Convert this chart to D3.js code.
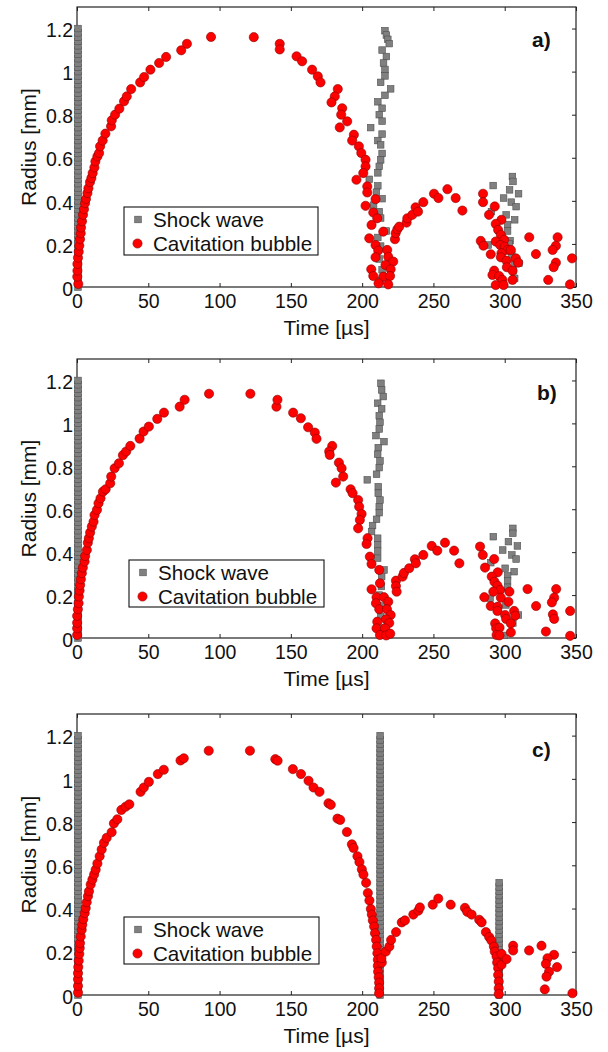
<!DOCTYPE html>
<html>
<head>
<meta charset="utf-8">
<script src="https://cdn.jsdelivr.net/npm/d3@7"></script>
<style>
  body { margin: 0; background: #fff; }
  svg { display: block; }
</style>
</head>
<body>
<script>
// tick values and labels
var timeTicks = [0, 50, 100, 150, 200, 250, 300, 350]
var radiusTicks = [0, 0.2, 0.4, 0.6, 0.8, 1, 1.2]
var panelNames = ["a)", "b)", "c)"]
var seriesNames = ["Shock wave", "Cavitation bubble"]

// radii of the stacked shock-wave squares (one column per emission)
var shockColumnR = [0, 0.02, 0.04, 0.06, 0.08, 0.1, 0.12, 0.14, 0.16, 0.18, 0.2, 0.22, 0.24, 0.26, 0.28, 0.3,
  0.32, 0.34, 0.36, 0.38, 0.4, 0.42, 0.44, 0.46, 0.48, 0.5, 0.52, 0.54, 0.56, 0.58, 0.6, 0.62, 0.64, 0.66,
  0.68, 0.7, 0.72, 0.74, 0.76, 0.78, 0.8, 0.82, 0.84, 0.86, 0.88, 0.9, 0.92, 0.94, 0.96, 0.98, 1, 1.02,
  1.04, 1.06, 1.08, 1.1, 1.12, 1.14, 1.16, 1.18, 1.2]

// panel a)  [time us, radius mm]
var shockA = [[216,1.19],[217,1.17],[218,1.15],[219,1.13],[214,1.10],[217,1.07],[215,1.04],[216,1.01],[216,0.98],
  [213,0.95],[220,0.92],[216,0.89],[211,0.86],[214,0.83],[212,0.80],[214,0.77],[206,0.74],[214,0.71],[211,0.68],
  [213,0.66],[214,0.62],[213,0.59],[212,0.56],[211,0.53],[205,0.50],[211,0.47],[210,0.44],[214,0.41],[208,0.38],
  [212,0.35],[213,0.32],[217,0.26],[211,0.23],[213,0.19],[212,0.13],[214,0.08],[213,0.03],
  [305.4,0.513],[305.8,0.49],[291.9,0.471],[303.4,0.451],[309.7,0.433],[299.2,0.413],[304.6,0.394],[308,0.373],
  [290.7,0.35],[301,0.335],[307,0.312],[302,0.29],[302,0.26],[303.8,0.215],[288.4,0.195],[303,0.2],[305,0.15],
  [307,0.11],[310,0.11],[306,0.075],[307,0.04]]
var bubbleA = [[0.9,0.014],[0.2,0.048],[0.3,0.076],[0.3,0.107],[0.7,0.136],[1.2,0.164],[1.6,0.192],[2.1,0.222],
  [2.6,0.25],[2.8,0.276],[3.5,0.305],[4.2,0.335],[4.9,0.361],[5.6,0.389],[6.3,0.409],[7.3,0.436],[8.0,0.459],
  [9.1,0.487],[10.1,0.506],[11.0,0.529],[12.2,0.555],[12.9,0.583],[14.3,0.606],[15.5,0.622],[16.2,0.653],
  [18.0,0.68],[19.9,0.712],[23.9,0.746],[24.4,0.774],[26.7,0.80],[29.7,0.828],[33.0,0.862],[34.9,0.885],
  [38.0,0.919],[44.3,0.95],[47.1,0.975],[51.5,1.009],[57.6,1.04],[62.5,1.068],[73.1,1.099],[77.1,1.129],
  [94.0,1.161],[124,1.16],[142.2,1.129],[142.2,1.103],[154,1.071],
  [157.9,1.048],[164.9,1.009],[168.9,0.978],[170.8,0.95],[182.9,0.919],[180.8,0.885],[178.5,0.857],[186,0.83],
  [185.3,0.80],[189.5,0.769],[184.3,0.741],[194.2,0.707],[193,0.68],[197.7,0.653],[199.4,0.622],[202.4,0.591],
  [202.4,0.56],[200.8,0.529],[196,0.498],[203.6,0.467],[203.6,0.439],[209.4,0.408],[202.4,0.377],[207.8,0.346],
  [210.6,0.319],[206.6,0.288],[214.8,0.257],[205,0.226],[209.4,0.195],[211.3,0.169],[217.6,0.172],[209.4,0.138],
  [218.3,0.14],[221.8,0.118],[216.4,0.102],[206.4,0.082],[220,0.082],[207.8,0.051],[214.8,0.048],[219.6,0.051],
  [211.5,0.017],[218.3,0.012],
  [223,0.222],[223.5,0.25],[224.7,0.268],[226,0.28],[231.2,0.299],[231.7,0.319],[235.2,0.335],[237.5,0.37],
  [239.2,0.35],[242.9,0.394],[250.4,0.433],[253.5,0.413],[259.8,0.454],[265.6,0.413],[270.3,0.355],
  [284.8,0.433],[284.8,0.394],[293,0.374],[289,0.335],[297.7,0.312],[293.7,0.293],[295.4,0.265],[297.3,0.242],
  [299.6,0.219],[293.7,0.211],[283.2,0.214],[285.1,0.192],[296.8,0.195],[300,0.187],[302,0.172],[304.3,0.172],
  [290.2,0.152],[297.7,0.157],[297.3,0.138],[307.8,0.133],[301.3,0.122],[309.4,0.113],[301.5,0.092],[305.5,0.076],
  [292.6,0.076],[291.4,0.056],[296.1,0.051],[298.4,0.033],[305.5,0.033],[293.7,0.009],[299.2,0.009],
  [317.2,0.231],[321.9,0.153],[337.1,0.231],[335.9,0.191],[333.6,0.172],[335.9,0.113],[334.3,0.092],[330.5,0.033],
  [347.2,0.133],[345.8,0.012]]

// panel b)
var shockB = [[213.2,1.187],[213.7,1.156],[214.8,1.125],[210.9,1.094],[213.7,1.068],[212,1.036],[212.5,1.005],
  [212,0.974],[209.7,0.943],[215.3,0.915],[211.3,0.887],[210.9,0.856],[212.5,0.825],[212,0.794],[210.1,0.763],
  [203.6,0.737],[211.3,0.705],[211.3,0.675],[212.5,0.643],[212,0.612],[212,0.584],[210.1,0.553],[207.3,0.524],
  [206.6,0.496],[210.9,0.465],[210.9,0.434],[210.9,0.405],[210.9,0.372],[215.3,0.317],[213.7,0.286],[213.5,0.24],
  [212,0.2],[214,0.15],[213,0.1],[212,0.05],
  [305.7,0.511],[305.7,0.488],[292,0.472],[302.6,0.449],[308.9,0.429],[298.6,0.41],[305,0.387],[308,0.368],
  [290.2,0.351],[300.3,0.325],[306.6,0.309],[302,0.29],[302,0.267],[302,0.236],[289.7,0.185],[300.8,0.154],
  [309.6,0.107],[305.7,0.07],[299.6,0.012]]
var bubbleB = [[0.1,0.014],[0.1,0.045],[0.1,0.071],[0.1,0.103],[0.6,0.134],[1.1,0.162],[1.3,0.193],[1.8,0.221],
  [2.2,0.247],[2.7,0.274],[3.4,0.302],[4.1,0.328],[5.3,0.356],[5.7,0.382],[6.9,0.41],[7.6,0.444],[8.3,0.465],
  [9.2,0.491],[10.4,0.519],[11.6,0.542],[12.3,0.573],[14.0,0.597],[15.1,0.628],[16.5,0.651],[18.2,0.682],
  [20.1,0.693],[23.3,0.721],[24.0,0.752],[26.4,0.791],[29.4,0.814],[32.2,0.852],[34.5,0.869],[37.4,0.895],
  [43.9,0.929],[46.7,0.962],[50.4,0.985],[56.3,1.021],[61.0,1.05],[72.0,1.078],[75.5,1.11],[92.6,1.138],
  [121.6,1.138],[139.9,1.078],[140.6,1.11],[151.6,1.05],
  [157,1.024],[162.1,0.982],[166.8,0.957],[168,0.928],[179,0.895],[176.9,0.869],[177.3,0.853],[183.7,0.817],
  [185.6,0.791],[186.7,0.752],[181.6,0.724],[191.9,0.693],[193.3,0.675],[197.2,0.643],[197.9,0.612],[199.6,0.578],
  [198.4,0.55],[197.2,0.511],[203.8,0.465],[203.1,0.438],[205.4,0.379],[206.6,0.345],[212,0.317],[212.5,0.255],
  [206.6,0.227],[210.1,0.19],[215.3,0.19],[209.7,0.162],[218.3,0.169],[212,0.134],[217.4,0.134],[220,0.107],
  [216.7,0.087],[210.6,0.076],[219,0.07],[210.1,0.045],[216.1,0.045],[212.5,0.014],[216.9,0.012],[219.7,0.02],
  [223.7,0.267],[223.7,0.242],[224.2,0.216],[228.4,0.286],[229.3,0.303],[233,0.325],[237,0.367],[237.7,0.348],
  [242.9,0.387],[248.8,0.429],[252.7,0.407],[258.1,0.444],[264.5,0.407],[268.2,0.348],
  [282.7,0.426],[284.6,0.387],[292.6,0.368],[286.2,0.328],[295.1,0.306],[290.9,0.286],[292.8,0.262],[294.9,0.244],
  [296.8,0.224],[303.3,0.216],[292,0.216],[285.7,0.19],[297.3,0.188],[302.6,0.169],[290.2,0.149],[295.1,0.146],
  [294.9,0.126],[306.6,0.126],[300.3,0.107],[307.3,0.104],[301,0.089],[304.3,0.068],[293.3,0.068],[294,0.045],
  [296.4,0.048],[304.3,0.026],[294.3,0.014],[296.3,0.012],
  [316,0.228],[322,0.149],[336.1,0.228],[334.7,0.188],[333.1,0.166],[333.8,0.11],[334.7,0.089],[328.9,0.03],
  [345.9,0.126],[345.9,0.01]]

// panel c): shock wave columns (time, top index into shockColumnR)
var shockColumnsC = [[0.7, 61], [212.6, 61], [296.1, 27]]
var bubbleC = [[0.7,0.011],[0.7,0.042],[0.7,0.073],[0.7,0.101],[0.9,0.129],[1.2,0.159],[1.6,0.19],[1.9,0.217],
  [2.1,0.24],[2.6,0.271],[3.3,0.302],[3.7,0.325],[4.4,0.351],[5.4,0.379],[6.1,0.402],[6.8,0.429],[7.7,0.457],
  [8.4,0.48],[9.6,0.511],[10.8,0.534],[12.0,0.557],[13.1,0.58],[14.3,0.608],[15.9,0.642],[17.3,0.673],
  [18.9,0.704],[20.8,0.727],[24.3,0.753],[25.9,0.794],[28.3,0.813],[31.1,0.856],[34.1,0.871],[36.7,0.882],
  [44.6,0.94],[46.9,0.96],[50.4,0.986],[56.7,1.022],[60.9,1.042],[72.6,1.085],[74.9,1.095],[92.4,1.13],
  [121.3,1.13],[139.1,1.091],[140.7,1.084],[151.4,1.045],
  [157.1,1.022],[162.4,0.991],[165.9,0.96],[170.1,0.94],[176.4,0.887],[178,0.88],[182.7,0.816],[184.6,0.81],
  [189.3,0.754],[192.8,0.697],[194,0.68],[196.7,0.642],[198.1,0.615],[199.8,0.581],[200.9,0.557],[202.8,0.519],
  [204,0.472],[205.1,0.437],[206.1,0.398],[206.8,0.372],[207.5,0.345],[208.4,0.317],[209,0.286],[209.8,0.255],
  [210.2,0.224],[210.7,0.193],[211,0.163],[211,0.135],[211.2,0.108],[211.6,0.082],[211.9,0.057],[211.9,0.031],
  [211.9,0.008],[213.8,0.15],[213.5,0.17],
  [216.6,0.201],[219.1,0.224],[220.3,0.255],[223.8,0.291],[227.8,0.336],[230,0.345],[235.9,0.372],[239.4,0.39],
  [240.5,0.405],[249.5,0.418],[253.4,0.446],[262.1,0.418],[272.1,0.403],[273.7,0.385],[276.8,0.372],[282.1,0.348],
  [283.8,0.336],[286.8,0.291],[289.1,0.268],[290.7,0.252],[292.4,0.224],[293,0.201],[294.3,0.178],[294.7,0.15],
  [295.4,0.124],[295.4,0.093],[295.8,0.062],[295.8,0.031],[295.8,0.005],[297.8,0.19],[297.8,0.14],[301.3,0.166],
  [305.9,0.228],[305.9,0.206],[317.1,0.206],[325.8,0.228],[334.6,0.186],[330,0.17],[328.9,0.144],[331.1,0.108],
  [329.3,0.085],[336.7,0.129],[328.1,0.026],[347.5,0.008]]

// layout
var W = 608, H = 1052
var plotLeft = 77, plotRight = 576
var panelTops = [7, 359, 714]
var panelBottoms = [287, 638, 995]
var legendBoxes = [[124, 207, 194, 48], [129, 560, 195, 47], [124, 917, 195, 47]]
var labelPos = [[532, 47], [537, 400], [532, 757]]
var FONT = "'Liberation Sans', Arial, Helvetica, sans-serif"

var svg = d3.select("body").append("svg").attr("width", W).attr("height", H)
svg.append("rect").attr("width", W).attr("height", H).attr("fill", "#fff")

function columnPoints(t, n) {
  return shockColumnR.slice(0, n).map(function(r) { return [t, r] })
}

var panels = [
  { shock: columnPoints(0.7, 61).concat(shockA), bubble: bubbleA },
  { shock: columnPoints(0.7, 61).concat(shockB), bubble: bubbleB },
  { shock: [].concat.apply([], shockColumnsC.map(function(c) { return columnPoints(c[0], c[1]) })), bubble: bubbleC }
]

var fmt = d3.format("~g")

panels.forEach(function(p, i) {
  var top = panelTops[i], bottom = panelBottoms[i]
  var x = d3.scaleLinear().domain([0, 350]).range([plotLeft, plotRight])
  var y = d3.scaleLinear().domain([0, 1.3]).range([bottom, top])
  var g = svg.append("g")

  var axB = g.append("g").attr("transform", "translate(0," + bottom + ")")
    .call(d3.axisBottom(x).tickValues(timeTicks).tickSizeInner(-4).tickSizeOuter(0).tickPadding(7.5))
  var axL = g.append("g").attr("transform", "translate(" + plotLeft + ",0)")
    .call(d3.axisLeft(y).tickValues(radiusTicks).tickFormat(fmt).tickSizeInner(-4).tickSizeOuter(0).tickPadding(4))
  var axT = g.append("g").attr("transform", "translate(0," + top + ")")
    .call(d3.axisTop(x).tickValues(timeTicks).tickFormat("").tickSizeInner(-4).tickSizeOuter(0))
  var axR = g.append("g").attr("transform", "translate(" + plotRight + ",0)")
    .call(d3.axisRight(y).tickValues(radiusTicks).tickFormat("").tickSizeInner(-4).tickSizeOuter(0))
  ;[axB, axL, axT, axR].forEach(function(a) {
    a.attr("font-family", FONT).attr("font-size", 19.5)
    a.select(".domain").remove()
    a.selectAll(".tick line").attr("stroke", "#222")
    a.selectAll(".tick text").attr("fill", "#111")
  })
  axL.selectAll(".tick text").attr("dy", "0.42em")

  g.append("rect")
    .attr("x", plotLeft).attr("y", top)
    .attr("width", plotRight - plotLeft).attr("height", bottom - top)
    .attr("fill", "none").attr("stroke", "#222").attr("stroke-width", 1.2)

  // shock wave squares
  var s = 6.6
  g.append("g").selectAll("rect").data(p.shock).join("rect")
    .attr("x", function(d) { return x(d[0]) - s / 2 })
    .attr("y", function(d) { return y(d[1]) - s / 2 })
    .attr("width", s).attr("height", s)
    .attr("fill", "#808080").attr("stroke", "#505050").attr("stroke-width", 0.6)

  // cavitation bubble circles
  g.append("g").selectAll("circle").data(p.bubble).join("circle")
    .attr("cx", function(d) { return x(d[0]) })
    .attr("cy", function(d) { return y(d[1]) })
    .attr("r", 4.6)
    .attr("fill", "#ff0000").attr("stroke", "#8b0000").attr("stroke-width", 0.6)

  // legend
  var lb = legendBoxes[i]
  var lg = g.append("g").attr("transform", "translate(" + lb[0] + "," + lb[1] + ")")
  lg.append("rect").attr("width", lb[2]).attr("height", lb[3])
    .attr("fill", "#fff").attr("stroke", "#111").attr("stroke-width", 1.1)
  lg.append("rect").attr("x", 14 - 3.3).attr("y", 12.5 - 3.3).attr("width", 6.6).attr("height", 6.6)
    .attr("fill", "#808080").attr("stroke", "#505050").attr("stroke-width", 0.6)
  lg.append("circle").attr("cx", 13.5).attr("cy", 36.5).attr("r", 4.6)
    .attr("fill", "#ff0000").attr("stroke", "#8b0000").attr("stroke-width", 0.6)
  lg.selectAll("text").data(seriesNames).join("text")
    .attr("x", 29)
    .attr("y", function(d, k) { return k === 0 ? 20 : 44 })
    .attr("font-family", FONT).attr("font-size", 20.6).attr("fill", "#111")
    .text(function(d) { return d })

  // axis titles
  g.append("text")
    .attr("transform", "translate(36," + (top + bottom) / 2 + ") rotate(-90)")
    .attr("text-anchor", "middle")
    .attr("font-family", FONT).attr("font-size", 21).attr("fill", "#111")
    .text("Radius [mm]")
  g.append("text")
    .attr("x", (plotLeft + plotRight) / 2).attr("y", bottom + 47.5)
    .attr("text-anchor", "middle")
    .attr("font-family", FONT).attr("font-size", 21).attr("fill", "#111")
    .text("Time [µs]")

  // panel letter
  g.append("text")
    .attr("x", labelPos[i][0]).attr("y", labelPos[i][1])
    .attr("font-family", FONT).attr("font-size", 21).attr("font-weight", "bold").attr("fill", "#111")
    .text(panelNames[i])
})
</script>
</body>
</html>
